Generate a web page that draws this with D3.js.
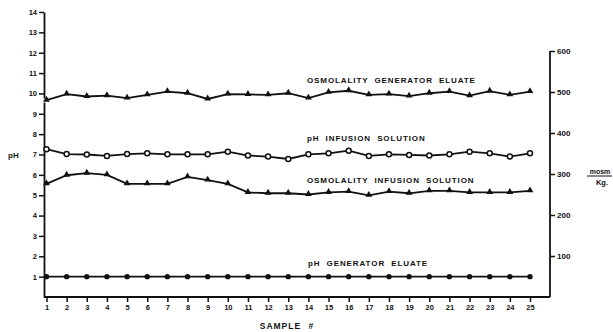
<!DOCTYPE html>
<html>
<head>
<meta charset="utf-8">
<script src="https://cdn.jsdelivr.net/npm/d3@7"></script>
<style>
  body { margin: 0; background: #fff; }
  text { font-family: "Liberation Sans", Arial, sans-serif; font-weight: bold; fill: #111; }
</style>
</head>
<body>
<svg id="chart" width="613" height="332"></svg>
<script>
// sample numbers 1..25
const samples = [1,2,3,4,5,6,7,8,9,10,11,12,13,14,15,16,17,18,19,20,21,22,23,24,25];
// mOsm/Kg, right axis
const osmGenerator = [480,495,489,491,485,493,501,497,483,495,494,493,497,485,499,503,493,495,490,497,501,491,502,493,501];
const osmInfusion = [276,297,302,298,276,276,276,293,285,276,255,253,253,250,255,257,248,257,253,259,259,255,255,255,259];
// pH, left axis
const phInfusion = [7.26,7.02,7.0,6.93,7.02,7.06,7.01,7.01,7.01,7.14,6.95,6.9,6.78,7.01,7.06,7.19,6.93,7.01,6.98,6.95,7.01,7.14,7.06,6.9,7.06];
const phGenerator = [1,1,1,1,1,1,1,1,1,1,1,1,1,1,1,1,1,1,1,1,1,1,1,1,1];
const phTicks = [1,2,3,4,5,6,7,8,9,10,11,12,13,14];
const osmTicks = [100,200,300,400,500,600];

const svg = d3.select('#chart');

const x = d3.scaleLinear().domain([1, 25]).range([46.5, 530]);
const yPh = d3.scaleLinear().domain([0, 14]).range([297, 12]);
const yOsm = d3.scaleLinear().domain([0, 600]).range([297, 51]);

// left pH axis
const gl = svg.append('g').attr('transform', 'translate(44,0)')
  .call(d3.axisLeft(yPh).tickValues(phTicks).tickSize(5).tickPadding(2).tickSizeOuter(0));
gl.select('.domain').attr('stroke-width', 1.8);
gl.selectAll('.tick line').attr('stroke-width', 1.5);
gl.selectAll('.tick text').style('font-size', '7.5px');
// little break in the axis between 9 and 10
svg.append('rect').attr('x', 41).attr('y', yPh(9.75)).attr('width', 6).attr('height', 4).attr('fill', '#fff');

// right osmolality axis
const gr = svg.append('g').attr('transform', 'translate(550,0)')
  .call(d3.axisRight(yOsm).tickValues(osmTicks).tickSize(5).tickPadding(2).tickSizeOuter(0));
gr.select('.domain').attr('stroke-width', 1.8).attr('d', `M0,${yOsm(600)}V${yOsm(0)}`);
gr.selectAll('.tick line').attr('stroke-width', 1.5);
gr.selectAll('.tick text').style('font-size', '8px');

// bottom sample axis
const gb = svg.append('g').attr('transform', 'translate(0,297)')
  .call(d3.axisBottom(x).tickValues(samples).tickSize(5).tickPadding(3).tickSizeOuter(0));
gb.select('.domain').attr('stroke-width', 1.8).attr('d', 'M44,0H550');
gb.selectAll('.tick line').attr('stroke-width', 1.5);
gb.selectAll('.tick text').style('font-size', '7.5px');
svg.selectAll('.domain, .tick line').attr('stroke', '#111');

const lineOf = (vals, y) => d3.line().x((d, i) => x(samples[i])).y(d => y(d))(vals);

function series(vals, y, kind) {
  svg.append('path').attr('d', lineOf(vals, y))
    .attr('fill', 'none').attr('stroke', '#111').attr('stroke-width', 1.8);
  const g = svg.append('g');
  vals.forEach((v, i) => {
    const cx = x(samples[i]), cy = y(v);
    if (kind === 'tri') {
      g.append('path').attr('d', d3.symbol(d3.symbolTriangle, 20)())
        .attr('transform', `translate(${cx},${cy - 0.5})`).attr('fill', '#111');
    } else if (kind === 'open') {
      g.append('circle').attr('cx', cx).attr('cy', cy).attr('r', 2.5)
        .attr('fill', '#fff').attr('stroke', '#111').attr('stroke-width', 1.5);
    } else {
      g.append('circle').attr('cx', cx).attr('cy', cy).attr('r', 2.7).attr('fill', '#111');
    }
  });
}

series(osmGenerator, yOsm, 'tri');
series(phInfusion, yPh, 'open');
series(osmInfusion, yOsm, 'tri');
series(phGenerator, yPh, 'dot');

// series labels
const label = (t, lx, ly) => svg.append('text').attr('x', lx).attr('y', ly)
  .style('font-size', '8px').style('letter-spacing', '0.9px').style('word-spacing', '3px').text(t);
label('OSMOLALITY GENERATOR ELUATE', 307, 83);
label('pH INFUSION SOLUTION', 307, 141);
label('OSMOLALITY INFUSION SOLUTION', 307, 183);
label('pH GENERATOR ELUATE', 308, 266);

// axis titles
svg.append('text').attr('x', 8).attr('y', 158).style('font-size', '8px').text('pH');
svg.append('text').attr('x', 287).attr('y', 329).attr('text-anchor', 'middle')
  .style('font-size', '8.5px').style('letter-spacing', '1px').style('word-spacing', '4px').text('SAMPLE #');
svg.append('text').attr('x', 600).attr('y', 174).attr('text-anchor', 'middle')
  .style('font-size', '7px').text('mosm');
svg.append('line').attr('x1', 587).attr('x2', 612).attr('y1', 176).attr('y2', 176)
  .attr('stroke', '#111').attr('stroke-width', 1);
svg.append('text').attr('x', 602).attr('y', 185).attr('text-anchor', 'middle')
  .style('font-size', '7.5px').text('Kg.');
</script>
</body>
</html>
